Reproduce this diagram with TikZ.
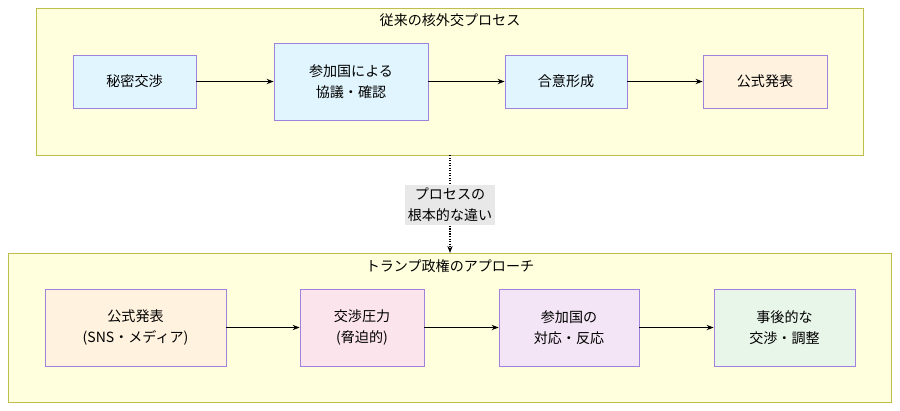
\documentclass[tikz,border=0pt]{standalone}
\usepackage{fontspec}
\setmainfont{Noto Sans CJK JP}
\usetikzlibrary{positioning,arrows.meta}
\definecolor{clfill}{RGB}{255,255,222}
\definecolor{cldraw}{RGB}{190,190,80}
\definecolor{nddraw}{RGB}{160,130,220}
\definecolor{blue1}{RGB}{225,245,254}
\definecolor{peach}{RGB}{255,243,224}
\definecolor{pink1}{RGB}{252,228,236}
\definecolor{lav}{RGB}{243,229,245}
\definecolor{green1}{RGB}{232,245,233}

\begin{document}
\begin{tikzpicture}[
    x=0.025cm, y=-0.025cm,
    cluster/.style={draw=cldraw, fill=clfill, line width=0.7pt},
    box/.style={draw=nddraw, line width=0.5pt, minimum height=1.325cm, align=center, font=\fontsize{10}{15}\selectfont},
    title/.style={font=\fontsize{10}{12}\selectfont},
    arrow/.style={-{Stealth[length=5pt]}, thick, >=stealth}
]
\useasboundingbox (0,0) rectangle (900,410);

% Clusters
\draw[cluster] (36,8) rectangle (863,155);
\node[title] (t1) at (450,20) {従来の核外交プロセス};
\draw[cluster] (8,253) rectangle (891,402);
\node[title] (t2) at (450,266) {トランプ政権のアプローチ};

% Old process
\node[box, fill=blue1, minimum width=3.075cm, minimum height=1.325cm] (secret) at (134.5,81.5) {秘密交渉};
\node[box, fill=blue1, minimum width=3.85cm, minimum height=1.925cm] (consult) at (351,81.5) {参加国による\\協議・確認};
\node[box, fill=blue1, minimum width=3.05cm, minimum height=1.325cm] (agree) at (566,81.5) {合意形成};
\node[box, fill=peach, minimum width=3.1cm, minimum height=1.325cm] (announce) at (765,81.5) {公式発表};

\draw[arrow] (secret) -- (consult);
\draw[arrow] (consult) -- (agree);
\draw[arrow] (agree) -- (announce);

% Difference
\coordinate (top) at (450,155);
\coordinate (bottom) at (450,253);
\draw[arrow, densely dotted, thick] (top) -- (bottom);
\node[fill=gray!18, align=center, font=\fontsize{10}{15}\selectfont, inner sep=2pt] (diff) at (450,205) {プロセスの\\根本的な違い};

% Trump approach
\node[box, fill=peach, minimum width=4.525cm, minimum height=1.925cm] (sns) at (135.5,327.5) {公式発表\\(SNS・メディア)};
\node[box, fill=pink1, minimum width=3.1cm, minimum height=1.925cm] (pressure) at (362,327.5) {交渉圧力\\(脅迫的)};
\node[box, fill=lav, minimum width=3.5cm, minimum height=1.925cm] (react) at (569,327.5) {参加国の\\対応・反応};
\node[box, fill=green1, minimum width=3.525cm, minimum height=1.925cm] (after) at (784.5,327.5) {事後的な\\交渉・調整};

\draw[arrow] (sns) -- (pressure);
\draw[arrow] (pressure) -- (react);
\draw[arrow] (react) -- (after);

\end{tikzpicture}
\end{document}
